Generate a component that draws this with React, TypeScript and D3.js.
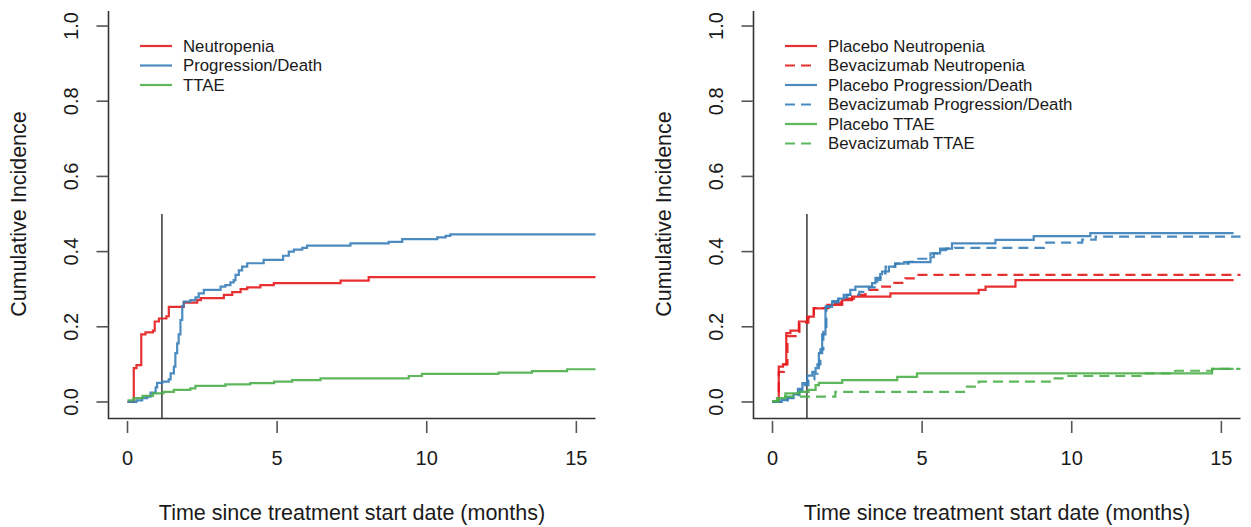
import React from "react";
import * as d3 from "d3";

type Pt = [number, number];

// ---- data (time in months, cumulative incidence) ----
const xTicks = [0, 5, 10, 15];
const yTicks = [0, 0.2, 0.4, 0.6, 0.8, 1.0];
const landmarkTime = 1.15;
const landmarkTop = 0.5;

const neutropeniaAll: Pt[] = [[0,0],[0.21,0.09],[0.3,0.098],[0.46,0.18],[0.6,0.185],[0.85,0.19],[0.91,0.214],[1.05,0.222],[1.3,0.228],[1.38,0.253],[1.88,0.264],[2.33,0.271],[2.45,0.276],[3.22,0.285],[3.5,0.292],[3.78,0.3],[4.0,0.305],[4.44,0.311],[4.89,0.316],[7.12,0.323],[8.06,0.332],[15.8,0.332]];
const progressionAll: Pt[] = [[0,0],[0.3,0.004],[0.49,0.01],[0.66,0.014],[0.77,0.025],[0.94,0.039],[0.99,0.051],[1.16,0.054],[1.38,0.06],[1.44,0.076],[1.55,0.094],[1.6,0.13],[1.66,0.156],[1.71,0.18],[1.77,0.218],[1.83,0.255],[1.88,0.267],[2.1,0.271],[2.27,0.278],[2.38,0.289],[2.55,0.298],[3.11,0.307],[3.27,0.311],[3.44,0.318],[3.55,0.324],[3.61,0.338],[3.72,0.35],[3.83,0.36],[4.0,0.369],[4.55,0.378],[5.2,0.389],[5.39,0.4],[5.56,0.405],[5.84,0.41],[6.0,0.416],[7.45,0.422],[8.73,0.426],[9.18,0.433],[10.35,0.438],[10.63,0.442],[10.79,0.446],[15.8,0.446]];
const ttaeAll: Pt[] = [[0,0.004],[0.2,0.01],[0.5,0.016],[0.85,0.023],[1.2,0.027],[1.55,0.032],[2.1,0.036],[2.27,0.043],[3.27,0.047],[4.1,0.05],[4.9,0.054],[5.5,0.058],[6.45,0.063],[9.4,0.069],[9.84,0.0745],[12.4,0.078],[13.52,0.082],[14.69,0.087],[15.8,0.087]];

const placeboNeutropenia: Pt[] = [[0,0],[0.21,0.094],[0.35,0.1],[0.46,0.183],[0.6,0.19],[0.88,0.214],[1.16,0.227],[1.38,0.249],[1.83,0.258],[2.33,0.271],[2.66,0.28],[3.94,0.289],[6.89,0.298],[7.12,0.307],[8.12,0.324],[15.41,0.324]];
const bevacizumabNeutropenia: Pt[] = [[0,0],[0.21,0.08],[0.38,0.1],[0.5,0.175],[0.9,0.211],[1.2,0.225],[1.38,0.25],[1.88,0.262],[2.3,0.275],[2.77,0.285],[3.11,0.298],[3.55,0.307],[4.0,0.317],[4.44,0.329],[4.78,0.338],[15.8,0.338]];
const placeboProgression: Pt[] = [[0,0],[0.3,0.005],[0.5,0.012],[0.7,0.02],[0.85,0.035],[1.0,0.05],[1.16,0.07],[1.33,0.08],[1.44,0.09],[1.55,0.13],[1.66,0.18],[1.77,0.253],[1.99,0.265],[2.2,0.275],[2.38,0.285],[2.6,0.298],[2.77,0.307],[3.33,0.316],[3.44,0.33],[3.6,0.34],[3.66,0.347],[3.89,0.36],[4.1,0.368],[4.4,0.372],[5.28,0.385],[5.39,0.395],[5.6,0.408],[6.0,0.422],[7.45,0.431],[8.73,0.441],[10.62,0.449],[15.41,0.449]];
const bevacizumabProgression: Pt[] = [[0,0],[0.3,0.004],[0.5,0.01],[0.7,0.018],[0.9,0.03],[1.0,0.045],[1.2,0.06],[1.4,0.075],[1.5,0.1],[1.6,0.14],[1.7,0.2],[1.8,0.255],[2.0,0.268],[2.2,0.278],[2.5,0.285],[2.9,0.293],[3.22,0.305],[3.5,0.325],[3.61,0.342],[3.78,0.36],[4.1,0.368],[4.55,0.373],[4.8,0.381],[5.28,0.395],[5.6,0.404],[5.8,0.408],[6.1,0.41],[9.07,0.424],[10.35,0.432],[10.8,0.44],[15.8,0.44]];
const placeboTTAE: Pt[] = [[0,0.002],[0.21,0.01],[0.43,0.023],[0.9,0.027],[1.21,0.032],[1.44,0.045],[1.55,0.051],[2.33,0.058],[4.17,0.067],[4.83,0.076],[14.69,0.088],[15.41,0.088]];
const bevacizumabTTAE: Pt[] = [[0,0.002],[0.15,0.01],[0.3,0.014],[2.1,0.027],[6.45,0.041],[6.89,0.054],[9.35,0.063],[9.85,0.069],[12.3,0.076],[13.46,0.083],[14.69,0.088],[15.8,0.088]];

const RED = "#E41A1C";
const BLUE = "#377EB8";
const GREEN = "#4DAF4A";

type Series = { name: string; data: Pt[]; color: string; dashed: boolean };

const leftSeries: Series[] = [
  { name: "Neutropenia", data: neutropeniaAll, color: RED, dashed: false },
  { name: "Progression/Death", data: progressionAll, color: BLUE, dashed: false },
  { name: "TTAE", data: ttaeAll, color: GREEN, dashed: false },
];
const rightSeries: Series[] = [
  { name: "Placebo Neutropenia", data: placeboNeutropenia, color: RED, dashed: false },
  { name: "Bevacizumab Neutropenia", data: bevacizumabNeutropenia, color: RED, dashed: true },
  { name: "Placebo Progression/Death", data: placeboProgression, color: BLUE, dashed: false },
  { name: "Bevacizumab Progression/Death", data: bevacizumabProgression, color: BLUE, dashed: true },
  { name: "Placebo TTAE", data: placeboTTAE, color: GREEN, dashed: false },
  { name: "Bevacizumab TTAE", data: bevacizumabTTAE, color: GREEN, dashed: true },
];

const FONT = "'Liberation Sans', Arial, Helvetica, sans-serif";
const TXT = "#1a1a1a";

function Panel({ ox, series, id }: { ox: number; series: Series[]; id: string }) {
  const left = ox + 108.5, right = ox + 595.5, top = 11, bottom = 417;
  const x = d3.scaleLinear().domain([-0.635, 15.64]).range([left, right]);
  const y = d3.scaleLinear().domain([-0.04, 1.04]).range([bottom, top]);
  const line = d3.line<Pt>().x((d) => x(d[0])).y((d) => y(d[1])).curve(d3.curveStepAfter);
  return (
    <g>
      <defs>
        <clipPath id={id}>
          <rect x={left} y={top} width={right - left} height={bottom - top} />
        </clipPath>
      </defs>
      {/* landmark line */}
      <line x1={x(landmarkTime)} x2={x(landmarkTime)} y1={y(landmarkTop)} y2={bottom + 2} stroke="#444" strokeWidth={1.6} />
      <g clipPath={`url(#${id})`}>
        {series.map((s) => (
          <path key={s.name} d={line(s.data) || ""} fill="none" stroke={s.color} strokeOpacity={0.9}
            strokeWidth={2.2} strokeDasharray={s.dashed ? "10,6" : undefined} />
        ))}
      </g>
      {/* box (L) */}
      <path d={`M${left},${top}V${bottom + 1.5}H${right}`} fill="none" stroke="#333" strokeWidth={1.6} />
      {/* y ticks */}
      {yTicks.map((t) => (
        <g key={"y" + t}>
          <line x1={left - 12} x2={left} y1={y(t)} y2={y(t)} stroke="#555" strokeWidth={1.6} />
          <text transform={`translate(${ox + 71},${y(t)}) rotate(-90)`} textAnchor="middle" dy="0.35em"
            fontFamily={FONT} fontSize={20} fill={TXT}>{t.toFixed(1)}</text>
        </g>
      ))}
      {/* x ticks */}
      {xTicks.map((t) => (
        <g key={"x" + t}>
          <line x1={x(t)} x2={x(t)} y1={bottom + 4} y2={bottom + 16} stroke="#555" strokeWidth={1.6} />
          <text x={x(t)} y={458} textAnchor="middle" dy="0.35em" fontFamily={FONT} fontSize={20} fill={TXT}>{t}</text>
        </g>
      ))}
      <text transform={`translate(${ox + 18},${(top + bottom) / 2}) rotate(-90)`} textAnchor="middle" dy="0.35em"
        fontFamily={FONT} fontSize={21.5} fill={TXT}>Cumulative Incidence</text>
      <text x={(left + right) / 2} y={512} textAnchor="middle" dy="0.35em" fontFamily={FONT} fontSize={21.5} fill={TXT}>
        Time since treatment start date (months)
      </text>
      {/* legend */}
      {series.map((s, i) => {
        const ly = 46 + i * 19.5;
        return (
          <g key={"l" + s.name}>
            <line x1={ox + 140} x2={ox + 172} y1={ly} y2={ly} stroke={s.color} strokeOpacity={0.9} strokeWidth={2.2}
              strokeDasharray={s.dashed ? "10,6" : undefined} />
            <text x={ox + 183} y={ly} dy="0.35em" fontFamily={FONT} fontSize={16.8} fill={TXT}>{s.name}</text>
          </g>
        );
      })}
    </g>
  );
}

export default function App() {
  return (
    <svg width={1251} height={527} style={{ position: "absolute", left: 0, top: 0, background: "#fff" }}>
      <rect width={1251} height={527} fill="#fff" />
      <Panel ox={0} series={leftSeries} id="clipL" />
      <Panel ox={645} series={rightSeries} id="clipR" />
    </svg>
  );
}
